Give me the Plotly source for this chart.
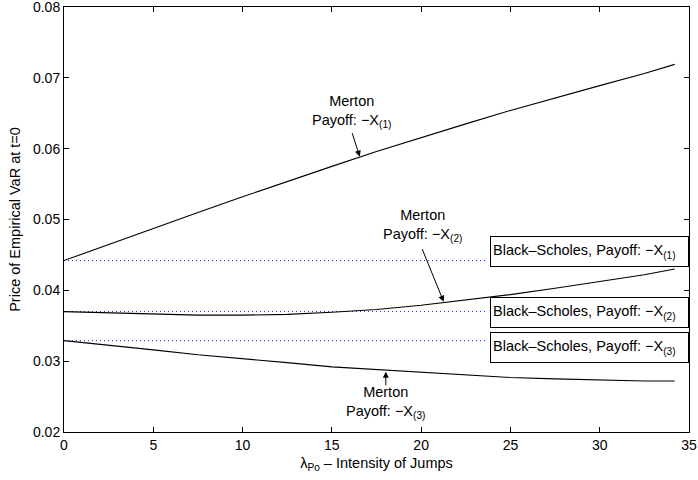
import plotly.graph_objects as go

# ---- data ----
lam = [0, 2.5, 5, 7.5, 10, 12.5, 15, 17.5, 20, 22.5, 25, 27.5, 30, 32.5, 34.2]
merton_x1 = [0.0442, 0.0465, 0.0488, 0.0510, 0.0532, 0.0554, 0.0575, 0.0596,
             0.0616, 0.0635, 0.0654, 0.0672, 0.0689, 0.0706, 0.0719]
merton_x2 = [0.0370, 0.0368, 0.0366, 0.0365, 0.0365, 0.0366, 0.0369, 0.0373,
             0.0379, 0.0386, 0.0394, 0.0403, 0.0412, 0.0422, 0.0430]
merton_x3 = [0.0329, 0.0323, 0.0316, 0.0309, 0.0304, 0.0298, 0.0292, 0.0288,
             0.0284, 0.0280, 0.0277, 0.0275, 0.0273, 0.0272, 0.0272]
bs_lam = [0, 23.65]
bs_x1 = 0.0442
bs_x2 = 0.0370
bs_x3 = 0.0329

x_ticks = [0, 5, 10, 15, 20, 25, 30, 35]
y_ticks = [0.02, 0.03, 0.04, 0.05, 0.06, 0.07, 0.08]

FONT = "Liberation Sans, Arial, Helvetica, sans-serif"
FS = 14
FST = 14.5

fig = go.Figure()
for v in (bs_x1, bs_x2, bs_x3):
    fig.add_trace(go.Scatter(x=bs_lam, y=[v, v], mode="lines",
                             line=dict(color="#2020ff", width=1, dash="1px,3px"),
                             showlegend=False, hoverinfo="skip"))
for ys in (merton_x1, merton_x2, merton_x3):
    fig.add_trace(go.Scatter(x=lam, y=ys, mode="lines",
                             line=dict(color="black", width=1.1),
                             showlegend=False))

ann = []
def label(x, y, sub):
    return dict(x=x, y=y, xref="x", yref="y", showarrow=False,
                text=f"Merton<br>Payoff: \u2212X<sub>({sub})</sub>",
                xanchor="center", yanchor="middle", align="center",
                font=dict(family=FONT, size=FST, color="black"))

def arrow(x, y, ax, ay):
    return dict(x=x, y=y, xref="x", yref="y", ax=ax, ay=ay, text="",
                showarrow=True, arrowhead=2, arrowsize=1.2, arrowwidth=1,
                arrowcolor="black")

ann.append(label(16.09, 0.0653, 1))
ann.append(arrow(16.56, 0.05887, -8, -25))
ann.append(label(20.07, 0.0491, 2))
ann.append(arrow(21.26, 0.0384, -22, -54))
ann.append(label(18.02, 0.0241, 3))
ann.append(arrow(18.02, 0.0285, 0, 15))

def box(y, sub):
    return dict(x=23.87, y=y, xref="x", yref="y", showarrow=False,
                text=f"Black\u2013Scholes, Payoff: \u2212X<sub>({sub})</sub>",
                xanchor="left", yanchor="middle", align="left",
                width=193, height=25, borderpad=2,
                bordercolor="black", borderwidth=1, bgcolor="white",
                font=dict(family=FONT, size=FST, color="black"))

ann.append(box(0.04555, 1))
ann.append(box(0.03684, 2))
ann.append(box(0.0320, 3))

axis_common = dict(showgrid=False, zeroline=False, showline=True,
                   linecolor="black", linewidth=1, mirror="ticks",
                   ticks="inside", ticklen=5, tickcolor="black",
                   ticklabeloverflow="allow", automargin=False,
                   tickfont=dict(family=FONT, size=FS, color="black"))

fig.update_layout(
    width=698, height=480,
    margin=dict(l=64, r=9, t=7, b=48),
    paper_bgcolor="white", plot_bgcolor="white",
    annotations=ann,
    xaxis=dict(range=[0, 35], tickvals=x_ticks,
               title=dict(text="\u03bb<sub>Po</sub> \u2013 Intensity of Jumps",
                          font=dict(family=FONT, size=FST, color="black"),
                          standoff=6),
               **axis_common),
    yaxis=dict(range=[0.02, 0.08], tickvals=y_ticks, tickformat=".2f",
               title=dict(text="Price of Empirical VaR at t=0",
                          font=dict(family=FONT, size=FST, color="black"),
                          standoff=8),
               **axis_common),
)

fig.write_html("out.html")
